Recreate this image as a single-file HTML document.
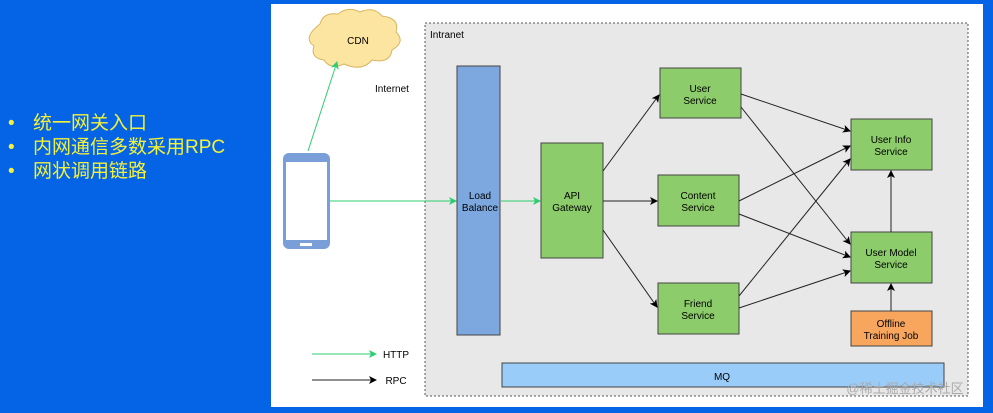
<!DOCTYPE html>
<html><head><meta charset="utf-8"><style>
body{margin:0;width:993px;height:413px;background:#0563e6;overflow:hidden;font-family:"Liberation Sans","Noto Sans CJK SC",sans-serif;position:relative}
.b{position:absolute;left:8px;color:#f2f23a;font-size:19px;line-height:24px}
.b span{display:inline-block;width:25px}
</style></head><body>
<div class="b" style="top:112px"><span>•</span>统一网关入口</div>
<div class="b" style="top:136px"><span>•</span>内网通信多数采用RPC</div>
<div class="b" style="top:160px"><span>•</span>网状调用链路</div>
<svg style="position:absolute;left:0;top:0" width="993" height="413" font-family="Liberation Sans, sans-serif" font-size="10" text-anchor="middle">
<defs>
<marker id="k" markerWidth="8" markerHeight="8" refX="7" refY="4" orient="auto" markerUnits="userSpaceOnUse"><path d="M0,0 L8,4 L0,8 L2,4z" fill="#000"/></marker>
<marker id="g" markerWidth="8" markerHeight="8" refX="7" refY="4" orient="auto" markerUnits="userSpaceOnUse"><path d="M0,0 L8,4 L0,8 L2,4z" fill="#2ecc71"/></marker>
</defs>
<rect x="271" y="4" width="712" height="403" fill="#fff"/>
<rect x="425" y="23" width="543" height="373" fill="#e8e8e8" stroke="#555" stroke-dasharray="2,2"/>
<text x="430" y="38" text-anchor="start">Intranet</text>
<text x="392" y="92">Internet</text>
<path d="M320,24 q3,-12 18,-10 q10,-8 22,-2 q14,-6 22,4 q18,2 14,16 q10,10 -4,18 q-2,14 -20,10 q-10,12 -28,4 q-14,6 -20,-4 q-14,-2 -10,-14 q-12,-8 6,-22z" fill="#fbe5a0" stroke="#d8b560"/>
<text x="358" y="44">CDN</text>
<rect x="283" y="153" width="47" height="96" rx="6" fill="#7a9fd8"/>
<rect x="286" y="162" width="41" height="78" fill="#fff"/>
<rect x="300" y="243" width="12" height="3" fill="#fff"/>
<line x1="308" y1="151" x2="337" y2="62" stroke="#2ecc71" marker-end="url(#g)"/>
<line x1="330" y1="201" x2="456" y2="201" stroke="#2ecc71" marker-end="url(#g)"/>
<line x1="501" y1="201" x2="540" y2="201" stroke="#2ecc71" marker-end="url(#g)"/>
<rect x="457" y="66" width="43" height="269" fill="#7da7df" stroke="#444"/>
<text x="480" y="199">Load</text><text x="480" y="211">Balance</text>
<g fill="#8ccc6a" stroke="#444">
<rect x="541" y="143" width="62" height="115"/>
<rect x="660" y="68" width="81" height="50"/>
<rect x="658" y="175" width="81" height="51"/>
<rect x="658" y="283" width="81" height="51"/>
<rect x="851" y="119" width="81" height="51"/>
<rect x="851" y="232" width="81" height="51"/>
</g>
<rect x="851" y="311" width="81" height="35" fill="#f8a65e" stroke="#444"/>
<rect x="502" y="363" width="442" height="24" fill="#99ccf8" stroke="#444"/>
<text x="572" y="199">API</text><text x="572" y="211">Gateway</text>
<text x="700" y="92">User</text><text x="700" y="104">Service</text>
<text x="698" y="199">Content</text><text x="698" y="211">Service</text>
<text x="698" y="307">Friend</text><text x="698" y="319">Service</text>
<text x="891" y="143">User Info</text><text x="891" y="155">Service</text>
<text x="891" y="256">User Model</text><text x="891" y="268">Service</text>
<text x="891" y="327">Offline</text><text x="891" y="339">Training Job</text>
<text x="722" y="380">MQ</text>
<g stroke="#222" marker-end="url(#k)">
<line x1="603" y1="171" x2="659" y2="95"/>
<line x1="603" y1="201" x2="657" y2="201"/>
<line x1="603" y1="230" x2="657" y2="307"/>
<line x1="741" y1="94" x2="850" y2="131"/>
<line x1="741" y1="107" x2="850" y2="244"/>
<line x1="739" y1="201" x2="850" y2="146"/>
<line x1="739" y1="214" x2="850" y2="257"/>
<line x1="739" y1="296" x2="850" y2="159"/>
<line x1="739" y1="308" x2="850" y2="271"/>
<line x1="891" y1="232" x2="891" y2="171"/>
<line x1="891" y1="311" x2="891" y2="284"/>
<line x1="312" y1="380" x2="376" y2="380"/>
</g>
<line x1="312" y1="354" x2="376" y2="354" stroke="#2ecc71" marker-end="url(#g)"/>
<text x="396" y="358">HTTP</text><text x="396" y="384">RPC</text>
<text x="905" y="393" fill="#aaa" font-size="13" font-family="Liberation Sans, Noto Sans CJK SC, sans-serif">@稀土掘金技术社区</text>
</svg>
</body></html>
